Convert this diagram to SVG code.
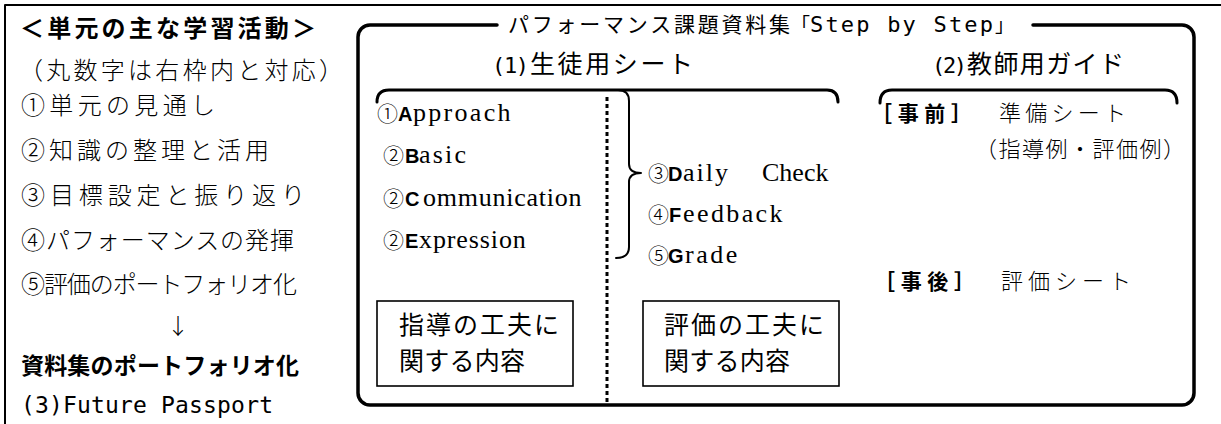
<svg xmlns="http://www.w3.org/2000/svg" width="1221" height="424" viewBox="0 0 1221 424">
<style>
.g{font-family:"Noto Sans CJK JP",sans-serif;fill:#000}
.m{font-family:"Noto Sans CJK JP",sans-serif;font-weight:300;fill:#000}
.b{font-weight:bold}
.mono{font-family:"DejaVu Sans Mono","Liberation Mono",monospace;fill:#000}
.ser{font-family:"Liberation Serif","Times New Roman",serif;font-size:26px;font-weight:400;fill:#000}
.cap{font-family:"Liberation Sans",Arial,sans-serif;font-weight:bold;font-size:20px;fill:#000}
.cd{font-family:"Noto Sans CJK JP",sans-serif;font-size:21px;font-weight:300;fill:#000}
.ln{fill:none;stroke:#000;stroke-linecap:round;stroke-linejoin:round}
.box{fill:#fff;stroke:#000;stroke-width:1.6}
</style>

<g id="page-border">
  <path class="ln" d="M5 424 L5 5 L1221 5" stroke-width="2" style="stroke-linecap:butt"/>
</g>

<g id="activities">
  <text class="g b" x="20" y="36.5" font-size="24" textLength="296" lengthAdjust="spacing">＜単元の主な学習活動＞</text>
  <text class="m" x="19" y="78.5" font-size="24" textLength="324" lengthAdjust="spacing">（丸数字は右枠内と対応）</text>
  <text class="m" x="21" y="113.5" font-size="24" textLength="194" lengthAdjust="spacing">①単元の見通し</text>
  <text class="m" x="21" y="158.5" font-size="24" textLength="248" lengthAdjust="spacing">②知識の整理と活用</text>
  <text class="m" x="21" y="203.5" font-size="24" textLength="284" lengthAdjust="spacing">③目標設定と振り返り</text>
  <text class="m" x="21" y="248.5" font-size="24" textLength="273" lengthAdjust="spacing">④パフォーマンスの発揮</text>
  <text class="m" x="21" y="292.5" font-size="24" textLength="276" lengthAdjust="spacing">⑤評価のポートフォリオ化</text>
  <text class="m" x="178" y="334" font-size="22" text-anchor="middle">↓</text>
  <text class="g b" x="21" y="374" font-size="23" textLength="278" lengthAdjust="spacing">資料集のポートフォリオ化</text>
  <text class="mono" x="21" y="413" font-size="23" textLength="252" lengthAdjust="spacing">(3)Future Passport</text>
</g>

<g id="frame">
  <path class="ln" d="M497 25 L370 25 A12 12 0 0 0 358 37 L358 393 A12 12 0 0 0 370 405 L1182 405 A12 12 0 0 0 1194 393 L1194 37 A12 12 0 0 0 1182 25 L1033 25" stroke-width="3.5"/>
  <text class="g" x="508" y="32" font-size="21" textLength="282" lengthAdjust="spacing">パフォーマンス課題資料集</text>
  <text class="g" x="791" y="32" font-size="19">「</text>
  <text class="mono" x="810" y="32" font-size="22" textLength="183" lengthAdjust="spacing">Step by Step</text>
  <text class="g" x="995" y="32" font-size="19">」</text>
</g>

<g id="student-sheet">
  <text y="73"><tspan class="mono" x="492" font-size="22" textLength="37" lengthAdjust="spacing">(1)</tspan><tspan class="g" x="530" font-size="25" textLength="163" lengthAdjust="spacing">生徒用シート</tspan></text>
  <path class="ln" d="M377 102 Q377 90 389 90 L827 90 Q838 90 838 102" stroke-width="3"/>
  <text class="cd" x="377" y="121">①</text><text class="cap" x="398" y="121">A</text><text class="ser" x="413" y="121" letter-spacing="2.3">pproach</text>
  <text class="cd" x="383" y="163">②</text><text class="cap" x="405" y="163">B</text><text class="ser" x="419" y="163" letter-spacing="2.2">asic</text>
  <text class="cd" x="383" y="206">②</text><text class="cap" x="405" y="206">C</text><text class="ser" x="423" y="206" letter-spacing="0.75">ommunication</text>
  <text class="cd" x="383" y="248">②</text><text class="cap" x="405" y="248">E</text><text class="ser" x="419" y="248" letter-spacing="0.9">xpression</text>
  <text class="cd" x="648" y="181">③</text><text class="cap" x="668" y="181">D</text><text class="ser" x="683" y="181" letter-spacing="2">aily</text><text class="ser" x="762" y="181">Check</text>
  <text class="cd" x="648" y="222">④</text><text class="cap" x="669" y="222">F</text><text class="ser" x="683" y="222" letter-spacing="2.4">eedback</text>
  <text class="cd" x="648" y="263">⑤</text><text class="cap" x="668" y="263">G</text><text class="ser" x="685" y="263" letter-spacing="2.5">rade</text>
</g>

<g id="box-guidance">
  <rect class="box" x="377" y="301" width="196" height="85"/>
  <text class="g" x="399" y="334" font-size="25" textLength="160" lengthAdjust="spacing">指導の工夫に</text>
  <text class="g" x="399" y="370" font-size="25" textLength="126" lengthAdjust="spacing">関する内容</text>
</g>

<g id="box-evaluation">
  <rect class="box" x="643" y="301" width="196" height="85"/>
  <text class="g" x="664" y="334" font-size="25" textLength="160" lengthAdjust="spacing">評価の工夫に</text>
  <text class="g" x="664" y="370" font-size="25" textLength="126" lengthAdjust="spacing">関する内容</text>
</g>

<g id="teacher-guide">
  <text y="73"><tspan class="mono" x="932" font-size="22" textLength="35" lengthAdjust="spacing">(2)</tspan><tspan class="g" x="967" font-size="25" textLength="157" lengthAdjust="spacing">教師用ガイド</tspan></text>
  <path class="ln" d="M880 103 Q880 90 892 90 L1165 90 Q1177 90 1177 103" stroke-width="3"/>
  <text class="g b" x="871" y="120.5" font-size="21" textLength="101" lengthAdjust="spacing">［事前］</text>
  <text class="m" x="999" y="120.5" font-size="22" textLength="127" lengthAdjust="spacing">準備シート</text>
  <text class="m" x="975" y="157" font-size="22" textLength="210" lengthAdjust="spacing">（指導例・評価例）</text>
  <text class="g b" x="874" y="289" font-size="21" textLength="101" lengthAdjust="spacing">［事後］</text>
  <text class="m" x="1001" y="289" font-size="22" textLength="130" lengthAdjust="spacing">評価シート</text>
</g>

<g id="connectors">
  <line class="ln" x1="607" y1="97" x2="607" y2="405" stroke-width="3" stroke-dasharray="4 3" style="stroke-linecap:butt"/>
  <path class="ln" d="M618 90 Q629 90 629 101 L629 164 Q629 173 641 173 Q629 173 629 182 L629 247 Q629 258 616 258" stroke-width="2"/>
</g>
</svg>
